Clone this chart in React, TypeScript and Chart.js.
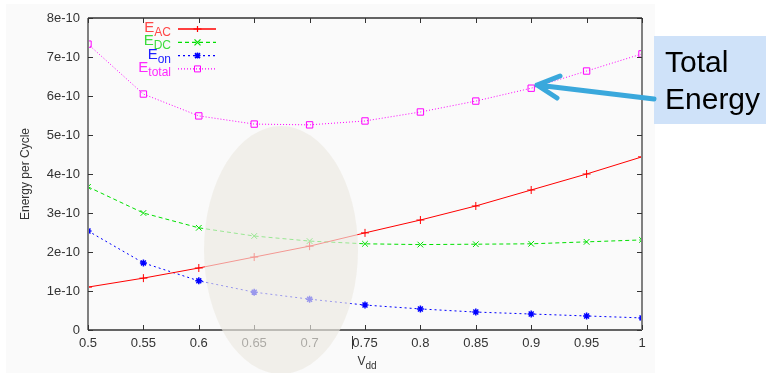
import React, { useEffect, useRef } from "react";
import { Chart, registerables } from "chart.js";

Chart.register(...registerables);

// V_dd values
const vdd = [0.5, 0.55, 0.6, 0.65, 0.7, 0.75, 0.8, 0.85, 0.9, 0.95, 1.0];
// energies in units of 1e-10
const eAC = [1.1, 1.33, 1.59, 1.87, 2.15, 2.49, 2.82, 3.18, 3.59, 4.0, 4.44];
const eDC = [3.67, 3.0, 2.62, 2.41, 2.28, 2.21, 2.19, 2.2, 2.21, 2.26, 2.31];
const eOn = [2.54, 1.72, 1.26, 0.97, 0.79, 0.64, 0.54, 0.46, 0.41, 0.36, 0.31];
const eTotal = [7.33, 6.05, 5.49, 5.28, 5.26, 5.36, 5.59, 5.87, 6.2, 6.64, 7.08];

const legendMain = ["E", "E", "E", "E"];
const legendSub = ["AC", "DC", "on", "total"];
const xTitleMain = "V";
const xTitleSub = "dd";
const yTitle = "Energy per Cycle";
const calloutLines = ["Total", "Energy"];

const FONT = "'Liberation Sans', Arial, sans-serif";

const lineColors = ["rgb(255,0,0)", "rgb(0,224,0)", "rgb(0,0,255)", "rgb(255,0,255)"];
const textColors = ["rgb(255,70,70)", "rgb(60,220,60)", "rgb(30,30,255)", "rgb(255,40,255)"];
const lineDashes = [[], [4, 3], [2, 3], [1, 2]];
const markerKinds = ["cross", "crossRot", "star", "rect"];
const markerRadii = [4, 4, 3.5, 4.5];
const markerWidths = [1, 1, 1.5, 1];

function drawMarker(ctx: CanvasRenderingContext2D, kind: string, x: number, y: number, color: string) {
  ctx.save();
  ctx.strokeStyle = color;
  ctx.fillStyle = color;
  ctx.setLineDash([]);
  ctx.lineWidth = 1.2;
  ctx.beginPath();
  if (kind === "cross") {
    ctx.moveTo(x - 4, y);
    ctx.lineTo(x + 4, y);
    ctx.moveTo(x, y - 3);
    ctx.lineTo(x, y + 3);
    ctx.stroke();
  } else if (kind === "crossRot") {
    ctx.moveTo(x - 3, y - 3);
    ctx.lineTo(x + 3, y + 3);
    ctx.moveTo(x - 3, y + 3);
    ctx.lineTo(x + 3, y - 3);
    ctx.stroke();
  } else if (kind === "star") {
    ctx.lineWidth = 1.5;
    ctx.moveTo(x - 3, y);
    ctx.lineTo(x + 3, y);
    ctx.moveTo(x, y - 3);
    ctx.lineTo(x, y + 3);
    ctx.moveTo(x - 2.5, y - 2.5);
    ctx.lineTo(x + 2.5, y + 2.5);
    ctx.moveTo(x - 2.5, y + 2.5);
    ctx.lineTo(x + 2.5, y - 2.5);
    ctx.stroke();
  } else {
    ctx.lineWidth = 1;
    ctx.rect(x - 3, y - 3, 6, 6);
    ctx.stroke();
  }
  ctx.restore();
}

export default function App() {
  const ref = useRef<HTMLCanvasElement | null>(null);

  useEffect(() => {
    const canvas = ref.current;
    if (!canvas) return;
    const series = [eAC, eDC, eOn, eTotal];

    const decor = {
      id: "decor",
      beforeDraw(chart: any) {
        const ctx = chart.ctx;
        ctx.save();
        ctx.fillStyle = "#ffffff";
        ctx.fillRect(0, 0, chart.width, chart.height);
        ctx.fillStyle = "#fafafa";
        ctx.fillRect(6, 4, 649, 369);
        ctx.restore();
      },
      afterDraw(chart: any) {
        const ctx = chart.ctx;
        const a = chart.chartArea;
        const xs = chart.scales.x;
        const ys = chart.scales.y;
        ctx.save();
        ctx.setLineDash([]);
        // frame
        ctx.lineWidth = 1.5;
        ctx.strokeStyle = "#333";
        ctx.beginPath();
        ctx.moveTo(a.left, a.top);
        ctx.lineTo(a.right, a.top);
        ctx.moveTo(a.left, a.bottom);
        ctx.lineTo(a.right, a.bottom);
        ctx.stroke();
        ctx.lineWidth = 2;
        ctx.strokeStyle = "#808080";
        ctx.beginPath();
        ctx.moveTo(a.left, a.top);
        ctx.lineTo(a.left, a.bottom);
        ctx.moveTo(a.right, a.top);
        ctx.lineTo(a.right, a.bottom);
        ctx.stroke();
        // inward ticks
        ctx.lineWidth = 1;
        ctx.strokeStyle = "#333";
        ctx.beginPath();
        xs.ticks.forEach((t: any) => {
          const px = Math.round(xs.getPixelForValue(t.value)) + 0.5;
          ctx.moveTo(px, a.bottom);
          ctx.lineTo(px, a.bottom - 5);
          ctx.moveTo(px, a.top);
          ctx.lineTo(px, a.top + 5);
        });
        ys.ticks.forEach((t: any) => {
          const py = Math.round(ys.getPixelForValue(t.value)) + 0.5;
          ctx.moveTo(a.left, py);
          ctx.lineTo(a.left + 5, py);
          ctx.moveTo(a.right, py);
          ctx.lineTo(a.right - 5, py);
        });
        ctx.stroke();

        // cursor artifact near 0.75 label
        ctx.beginPath();
        ctx.moveTo(352.5, 336);
        ctx.lineTo(352.5, 349);
        ctx.stroke();

        // legend
        const rightX = 171;
        for (let i = 0; i < 4; i++) {
          const ly = 29 + i * 13.3;
          ctx.font = `15px ${FONT}`;
          const wMain = ctx.measureText(legendMain[i]).width;
          ctx.font = `12px ${FONT}`;
          const wSub = ctx.measureText(legendSub[i]).width;
          const x0 = rightX - wMain - wSub;
          ctx.fillStyle = textColors[i];
          ctx.textAlign = "left";
          ctx.textBaseline = "alphabetic";
          ctx.font = `15px ${FONT}`;
          ctx.fillText(legendMain[i], x0, ly + 3);
          ctx.font = `12px ${FONT}`;
          ctx.fillText(legendSub[i], x0 + wMain, ly + 7);
          // sample line
          ctx.save();
          ctx.beginPath();
          ctx.strokeStyle = lineColors[i];
          ctx.lineWidth = 1.3;
          ctx.setLineDash(lineDashes[i]);
          ctx.moveTo(178, ly);
          ctx.lineTo(216, ly);
          ctx.stroke();
          ctx.restore();
          drawMarker(ctx, markerKinds[i], 197.5, ly, lineColors[i]);
        }

        // axis titles
        ctx.fillStyle = "#333";
        ctx.textAlign = "left";
        ctx.font = `12px ${FONT}`;
        const wv = ctx.measureText(xTitleMain).width;
        ctx.font = `10px ${FONT}`;
        const wd = ctx.measureText(xTitleSub).width;
        const cx = (a.left + a.right) / 2 + 2;
        const tx = cx - (wv + wd) / 2;
        ctx.font = `12px ${FONT}`;
        ctx.fillText(xTitleMain, tx, 365);
        ctx.font = `10px ${FONT}`;
        ctx.fillText(xTitleSub, tx + wv, 369);

        ctx.save();
        ctx.translate(29, (a.top + a.bottom) / 2);
        ctx.rotate(-Math.PI / 2);
        ctx.textAlign = "center";
        ctx.font = `12px ${FONT}`;
        ctx.fillText(yTitle, 0, 0);
        ctx.restore();

        // ellipse overlay
        ctx.fillStyle = "rgba(236,233,226,0.65)";
        ctx.beginPath();
        ctx.ellipse(281, 250, 77, 124, 0, 0, Math.PI * 2);
        ctx.fill();

        // callout box
        ctx.fillStyle = "#cfe2f9";
        ctx.fillRect(654, 36, 112, 88);
        ctx.fillStyle = "#000";
        ctx.font = `30px ${FONT}`;
        ctx.textAlign = "left";
        ctx.fillText(calloutLines[0], 665, 72);
        ctx.fillText(calloutLines[1], 665, 109);

        // arrow
        ctx.strokeStyle = "#3aa8dc";
        ctx.lineWidth = 5;
        ctx.lineCap = "round";
        ctx.lineJoin = "round";
        ctx.beginPath();
        ctx.moveTo(654, 99);
        ctx.lineTo(537, 85);
        ctx.moveTo(560, 76);
        ctx.lineTo(537, 85);
        ctx.lineTo(557, 98);
        ctx.stroke();
        ctx.restore();
      },
    };

    const chart = new Chart(canvas, {
      type: "line",
      data: {
        datasets: series.map((d, i) => ({
          label: legendSub[i],
          data: d.map((v, j) => ({ x: vdd[j], y: v })),
          borderColor: lineColors[i],
          backgroundColor: markerKinds[i] === "rect" ? "rgba(0,0,0,0)" : lineColors[i],
          pointBorderColor: lineColors[i],
          pointBackgroundColor: markerKinds[i] === "rect" ? "rgba(0,0,0,0)" : lineColors[i],
          borderWidth: 1,
          borderDash: lineDashes[i].slice(),
          pointStyle: markerKinds[i] as any,
          pointRadius: markerRadii[i],
          pointBorderWidth: markerWidths[i],
          tension: 0,
          fill: false,
        })),
      },
      options: {
        responsive: false,
        animation: false,
        layout: { padding: { left: 0, top: 18, right: 124, bottom: 0 } },
        plugins: { legend: { display: false }, tooltip: { enabled: false } },
        scales: {
          x: {
            type: "linear",
            min: 0.5,
            max: 1,
            grid: { display: false, drawTicks: false },
            border: { display: false },
            ticks: {
              stepSize: 0.05,
              padding: 6,
              color: "#333",
              font: { family: FONT, size: 13 },
              maxRotation: 0,
              autoSkip: false,
              callback: (v: any) => String(Math.round(Number(v) * 100) / 100),
            },
            afterFit: (s: any) => {
              s.height = 43;
            },
          },
          y: {
            type: "linear",
            min: 0,
            max: 8,
            grid: { display: false, drawTicks: false },
            border: { display: false },
            ticks: {
              stepSize: 1,
              padding: 8,
              color: "#333",
              font: { family: FONT, size: 13 },
              callback: (v: any) => (Number(v) === 0 ? "0" : `${Math.round(Number(v))}e-10`),
            },
            afterFit: (s: any) => {
              s.width = 88;
            },
          },
        },
      },
      plugins: [decor],
    });
    return () => chart.destroy();
  }, []);

  return (
    <div style={{ position: "fixed", left: 0, top: 0, width: 766, height: 373 }}>
      <canvas ref={ref} width={766} height={373} style={{ width: 766, height: 373 }} />
    </div>
  );
}
